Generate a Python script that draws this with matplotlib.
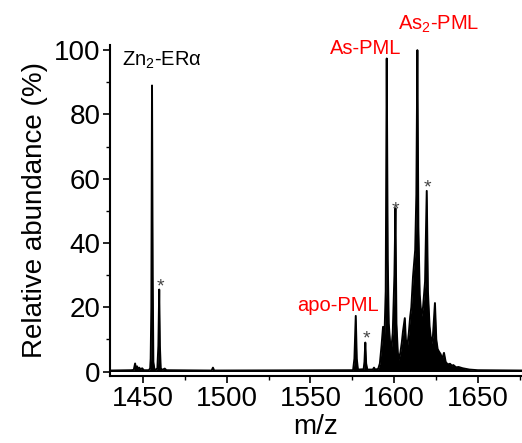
import matplotlib
matplotlib.use("Agg")
import matplotlib.pyplot as plt
from matplotlib.ticker import MultipleLocator

plt.rcParams['font.family'] = ['Liberation Sans', 'DejaVu Sans']
plt.rcParams['mathtext.default'] = 'regular'

# Spectrum envelope (m/z, relative abundance %)
mz = [1430.0, 1443.0, 1444.5, 1445.3, 1445.8, 1446.5, 1447.0, 1447.8, 1448.5, 1449.5,
      1450.5, 1453.5, 1454.3, 1454.6, 1455.0, 1455.4, 1455.8, 1456.2, 1456.8, 1457.5,
      1458.6, 1459.2, 1459.7, 1460.1, 1460.6, 1461.5, 1463.0, 1464.0, 1491.0, 1491.8,
      1492.5, 1575.5, 1576.3, 1577.1, 1577.7, 1578.4, 1581.8, 1582.3, 1582.8, 1583.3,
      1584.0, 1587.3, 1588.0, 1588.7, 1590.5, 1591.5, 1592.5, 1593.4, 1594.2, 1595.0,
      1595.6, 1596.2, 1596.8, 1597.6, 1598.3, 1599.2, 1600.2, 1600.8, 1601.4, 1602.2,
      1602.8, 1603.8, 1604.6, 1605.3, 1606.4, 1607.0, 1607.9, 1608.8, 1609.6, 1610.3,
      1611.3, 1612.6, 1613.3, 1613.9, 1614.5, 1615.3, 1616.3, 1617.3, 1618.5, 1619.5,
      1620.2, 1621.2, 1622.3, 1623.2, 1624.4, 1625.2, 1626.0, 1626.8, 1627.8, 1628.7,
      1629.8, 1630.8, 1632.0, 1633.4, 1634.5, 1635.4, 1637.0, 1638.5, 1641.0, 1645.0,
      1650.0, 1677.0]
abundance = [0.3, 0.4, 0.5, 2.5, 0.8, 1.6, 0.7, 1.2, 0.6, 1.0,
             0.4, 0.4, 1.0, 4.0, 20.0, 89.0, 30.0, 3.0, 0.8, 0.5,
             1.0, 8.0, 25.5, 8.0, 1.0, 0.5, 0.9, 0.4, 0.3, 1.2,
             0.3, 0.4, 4.0, 17.3, 4.0, 0.6, 0.7, 3.0, 9.0, 2.5,
             0.6, 0.6, 1.2, 0.6, 0.8, 2.5, 8.0, 13.9, 10.0, 25.0,
             97.4, 35.0, 15.0, 9.0, 6.7, 12.0, 30.0, 50.8, 15.0, 6.0,
             3.6, 6.0, 9.0, 12.4, 16.6, 10.0, 7.7, 12.0, 17.0, 20.0,
             29.5, 37.8, 55.0, 100.0, 45.0, 24.0, 17.0, 20.0, 28.0, 56.2,
             25.0, 14.0, 8.5, 11.0, 21.3, 10.0, 7.0, 6.2, 5.4, 3.8,
             5.8, 3.0, 2.2, 2.4, 1.8, 2.0, 1.3, 1.4, 1.0, 0.6,
             0.4, 0.3]

# Labels
labels = [r'Zn$_2$-ERα', 'As-PML', r'As$_2$-PML', 'apo-PML']
label_x = [1437.5, 1582.9, 1602.1, 1541.8]
label_y = [95.3, 98.8, 106.5, 18.9]
label_colors = ['black', 'red', 'red', 'red']
label_ha = ['left', 'center', 'left', 'left']

star_x = [1460.2, 1583.4, 1600.9, 1619.9]
star_y = [24.8, 8.8, 48.8, 55.6]

x_ticks = [1450, 1500, 1550, 1600, 1650]
y_ticks = [0, 20, 40, 60, 80, 100]

fig = plt.figure(figsize=(5.22, 4.43), dpi=100)
ax = fig.add_axes([110/522, (443-376)/443, 1 - 110/522, (376-45)/443])

ax.fill_between(mz, abundance, 0, color='black', lw=0)
ax.plot(mz, abundance, color='black', lw=1.4)

for t, x, y, c, ha in zip(labels, label_x, label_y, label_colors, label_ha):
    ax.text(x, y, t, color=c, fontsize=14.5, ha=ha, va='baseline', clip_on=False)
for x, y in zip(star_x, star_y):
    ax.text(x, y, '*', color='#444444', fontsize=14, ha='center', va='baseline')

ax.set_xlim(1430.3, 1676.4)
ax.set_ylim(-1.4, 101.6)
ax.set_xticks(x_ticks)
ax.set_yticks(y_ticks)
ax.xaxis.set_minor_locator(MultipleLocator(25))
ax.yaxis.set_minor_locator(MultipleLocator(10))
for s in ['top', 'right']:
    ax.spines[s].set_visible(False)
for s in ['left', 'bottom']:
    ax.spines[s].set_linewidth(1.5)
ax.tick_params(which='major', direction='out', length=5, width=1.2, labelsize=20, pad=2)
ax.tick_params(which='minor', direction='out', length=3, width=1.0)
ax.set_xlabel('m/z', fontsize=20, labelpad=2)
ax.set_ylabel('Relative abundance (%)', fontsize=20, labelpad=4)

fig.savefig('out.png', dpi=100)
